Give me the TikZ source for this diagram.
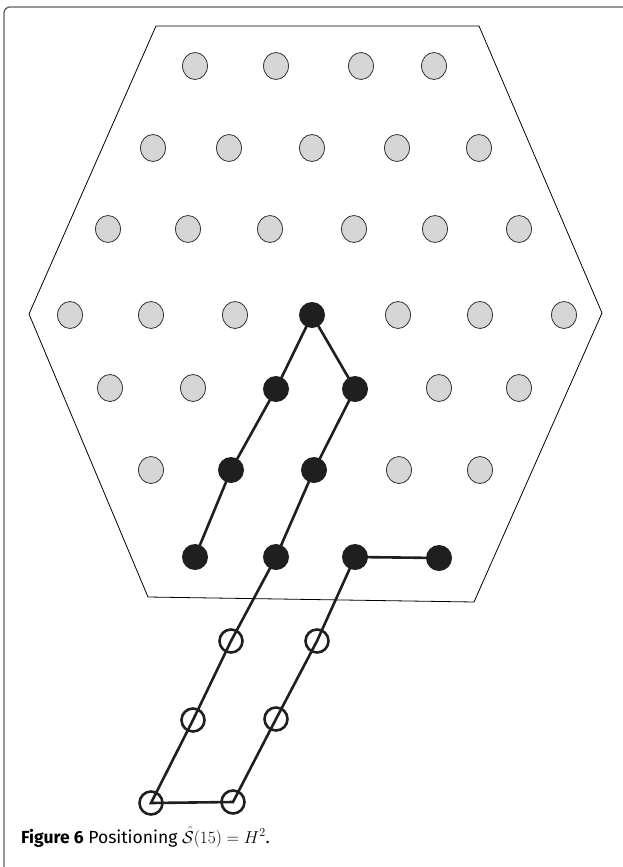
\documentclass[tikz,border=0pt]{standalone}
\usepackage{fontspec}
\setsansfont{Fira Sans}
\usetikzlibrary{shapes.geometric}

\begin{document}
\begin{tikzpicture}[
    x=1pt,
    y=-1pt,
    frame/.style={black!62, line width=1.3pt, rounded corners=6pt},
    hexagon/.style={black, line width=0.8pt},
    graydot/.style={ellipse, draw=black!80, fill=black!16, line width=0.8pt,
        minimum width=25pt, minimum height=27pt, inner sep=0pt},
    fulldot/.style={circle, fill=black!88, minimum size=26pt, inner sep=0pt},
    opendot/.style={circle, draw=black!88, line width=2.6pt, minimum size=23pt, inner sep=0pt},
    walk/.style={black!88, line width=2.6pt},
    caption/.style={font=\sffamily\fontsize{17.5}{21}\selectfont, anchor=base west, inner sep=0pt}
]

\useasboundingbox (0,0) rectangle (622,867);

% -------------------------------------------------------------------------
% Frame
% -------------------------------------------------------------------------
\draw[ frame ]
    (4,7) rectangle (640,890);

% -------------------------------------------------------------------------
% Hexagon
% -------------------------------------------------------------------------
\draw[ hexagon ]
    (156,26) -- (479,26) -- (602,313) -- (474,602) -- (148,597) -- (29,314) -- cycle;

% -------------------------------------------------------------------------
% Free sites (gray)
% -------------------------------------------------------------------------
\foreach \x [count=\i] in {195,276,361,434}{
    \node[ graydot ] (ga-\i) at (\x,66) {};
}
\foreach \x [count=\i] in {153,229,312,397,479}{
    \node[ graydot ] (gb-\i) at (\x,148) {};
}
\foreach \x [count=\i] in {108,188,270,354,435,519}{
    \node[ graydot ] (gc-\i) at (\x,229) {};
}
\foreach \x [count=\i] in {70,151,235,398,480,564}{
    \node[ graydot ] (gd-\i) at (\x,315) {};
}
\foreach \x [count=\i] in {110,193,439,519}{
    \node[ graydot ] (ge-\i) at (\x,388) {};
}
\foreach \x [count=\i] in {151,399,480}{
    \node[ graydot ] (gf-\i) at (\x,470) {};
}

% -------------------------------------------------------------------------
% Occupied sites inside (black)
% -------------------------------------------------------------------------
\node[ fulldot ] (b1) at (195,557) {};
\node[ fulldot ] (b2) at (231,470) {};
\node[ fulldot ] (b3) at (276,389) {};
\node[ fulldot ] (b4) at (312,315) {};
\node[ fulldot ] (b5) at (355,389) {};
\node[ fulldot ] (b6) at (314,470) {};
\node[ fulldot ] (b7) at (276,557) {};
\node[ fulldot ] (b8) at (355,557) {};
\node[ fulldot ] (b9) at (439,558) {};

% -------------------------------------------------------------------------
% Sites outside (open)
% -------------------------------------------------------------------------
\node[ opendot ] (o1) at (231,641) {};
\node[ opendot ] (o2) at (193,720) {};
\node[ opendot ] (o3) at (151,803) {};
\node[ opendot ] (o4) at (233,802) {};
\node[ opendot ] (o5) at (276,719) {};
\node[ opendot ] (o6) at (317,641) {};

% -------------------------------------------------------------------------
% Walk
% -------------------------------------------------------------------------
\draw[ walk ]
    (b1.center) -- (b2.center) -- (b3.center) -- (b4.center) -- (b5.center)
    -- (b6.center) -- (b7.center) -- (o1.center) -- (o2.center) -- (o3.center)
    -- (o4.center) -- (o5.center) -- (o6.center) -- (b8.center) -- (b9.center);

% -------------------------------------------------------------------------
% Caption
% -------------------------------------------------------------------------
\node[ caption ] (cap) at (21,843)
    {\textbf{Figure 6} Positioning $\hat{\mathcal{S}}(15) = H^2$.};

\end{tikzpicture}
\end{document}
